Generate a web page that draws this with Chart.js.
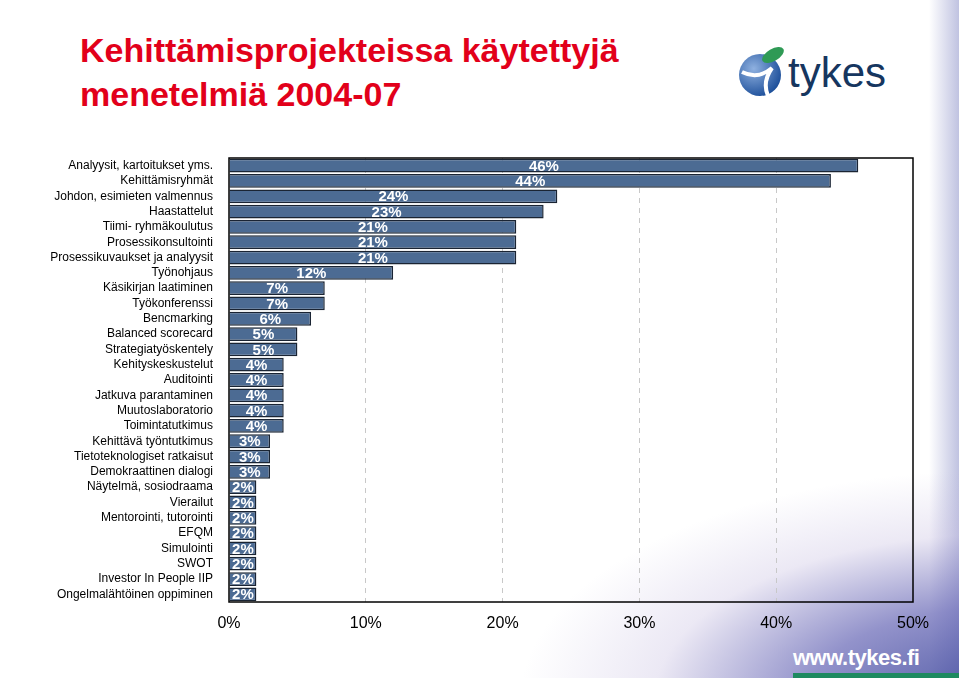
<!DOCTYPE html>
<html><head><meta charset="utf-8">
<script src="https://cdn.jsdelivr.net/npm/chart.js@4"></script>
<style>
html,body{margin:0;padding:0;width:959px;height:678px;overflow:hidden;font-family:"Liberation Sans",Arial,sans-serif;}
body{position:relative;background:
 radial-gradient(ellipse 480px 230px at 1000px 700px, rgba(70,80,160,0.95) 0%, rgba(110,110,185,0.75) 40%, rgba(190,180,220,0.3) 72%, rgba(255,255,255,0) 100%),
 linear-gradient(to left, rgba(140,145,200,0.55) 0px, rgba(255,255,255,0) 30px), #fff;}
#title{position:absolute;left:80px;top:28px;color:#e2001a;font-weight:bold;font-size:34px;line-height:44px;}
#logo{position:absolute;left:738px;top:42px;width:180px;height:60px;}
#url{position:absolute;left:793px;top:645px;color:#fff;font-weight:bold;font-size:22px;font-family:"Liberation Sans Narrow","Liberation Sans",sans-serif;letter-spacing:-0.5px;}
#green{position:absolute;left:793px;top:673px;width:166px;height:5px;background:#1e8a60;}
canvas{position:absolute;left:0;top:0;}
</style></head><body>
<div id="title">Kehittämisprojekteissa käytettyjä<br>menetelmiä 2004-07</div>
<svg id="logo" viewBox="0 0 180 60">
<defs><radialGradient id="g" cx="35%" cy="35%" r="70%"><stop offset="0" stop-color="#8fb1e0"/><stop offset="1" stop-color="#1d4f9a"/></radialGradient></defs>
<circle cx="22" cy="33" r="21" fill="url(#g)"/>
<path d="M4 30 Q20 38 34 26 Q24 40 30 54" stroke="#fff" stroke-width="4" fill="none"/>
<ellipse cx="35" cy="13" rx="12" ry="6" fill="#2f9a55" transform="rotate(-30 35 13)"/>
<text x="50" y="45" font-size="42" fill="#16365f" font-family="Liberation Sans,Arial">tykes</text>
</svg>
<div id="url">www.tykes.fi</div>
<div id="green"></div>
<canvas id="c" width="959" height="678"></canvas>
<script>
const categories=["Analyysit, kartoitukset yms.","Kehittämisryhmät","Johdon, esimieten valmennus","Haastattelut","Tiimi- ryhmäkoulutus","Prosessikonsultointi","Prosessikuvaukset ja analyysit","Työnohjaus","Käsikirjan laatiminen","Työkonferenssi","Bencmarking","Balanced scorecard","Strategiatyöskentely","Kehityskeskustelut","Auditointi","Jatkuva parantaminen","Muutoslaboratorio","Toimintatutkimus","Kehittävä työntutkimus","Tietoteknologiset ratkaisut","Demokraattinen dialogi","Näytelmä, sosiodraama","Vierailut","Mentorointi, tutorointi","EFQM","Simulointi","SWOT","Investor In People IIP","Ongelmalähtöinen oppiminen"];
const values=[46,44,24,23,21,21,21,12,7,7,6,5,5,4,4,4,4,4,3,3,3,2,2,2,2,2,2,2,2];
const tickValues=[0,10,20,30,40,50];
const labelPlugin={id:'lbl',afterDatasetsDraw(ch){const c=ch.ctx;const m=ch.getDatasetMeta(0);c.save();c.fillStyle='#fff';c.font='bold 15px "Liberation Sans",Arial';c.textAlign='center';c.textBaseline='middle';
m.data.forEach((b,i)=>{c.fillText(values[i]+'%',(b.x+b.base)/2,b.y+1);});c.restore();}};
const borderPlugin={id:'brd',afterDraw(ch){const a=ch.chartArea,c=ch.ctx;c.save();c.strokeStyle='#000';c.lineWidth=1.5;c.setLineDash([]);c.strokeRect(a.left,a.top,a.right-a.left,a.bottom-a.top);c.restore();}};
new Chart(document.getElementById('c'),{type:'bar',
data:{labels:categories,datasets:[{data:values,backgroundColor:'#4c6b93',borderColor:'#1a2433',borderWidth:1.5,barPercentage:0.9,categoryPercentage:1}]},
options:{indexAxis:'y',responsive:false,animation:false,
layout:{padding:{left:0,top:158,right:46,bottom:0}},
plugins:{legend:{display:false},tooltip:{enabled:false}},
scales:{
x:{min:0,max:50,afterBuildTicks(s){s.ticks=tickValues.map(v=>({value:v}));},afterFit(s){s.height=76;},
 ticks:{callback:v=>v+'%',color:'#000',font:{size:16,family:'"Liberation Sans",Arial'},padding:12,maxRotation:0},
 grid:{color:(c)=>c.tick&&c.tick.value>0&&c.tick.value<50?'#c8c8c8':'rgba(0,0,0,0)',drawTicks:false},border:{display:false,dash:[5,5]}},
y:{afterFit(s){s.width=229;},ticks:{color:'#000',font:{size:12,family:'"Liberation Sans",Arial'},padding:8,autoSkip:false},
 grid:{display:false},border:{display:false}}
}},plugins:[labelPlugin,borderPlugin]});
</script>
</body></html>
